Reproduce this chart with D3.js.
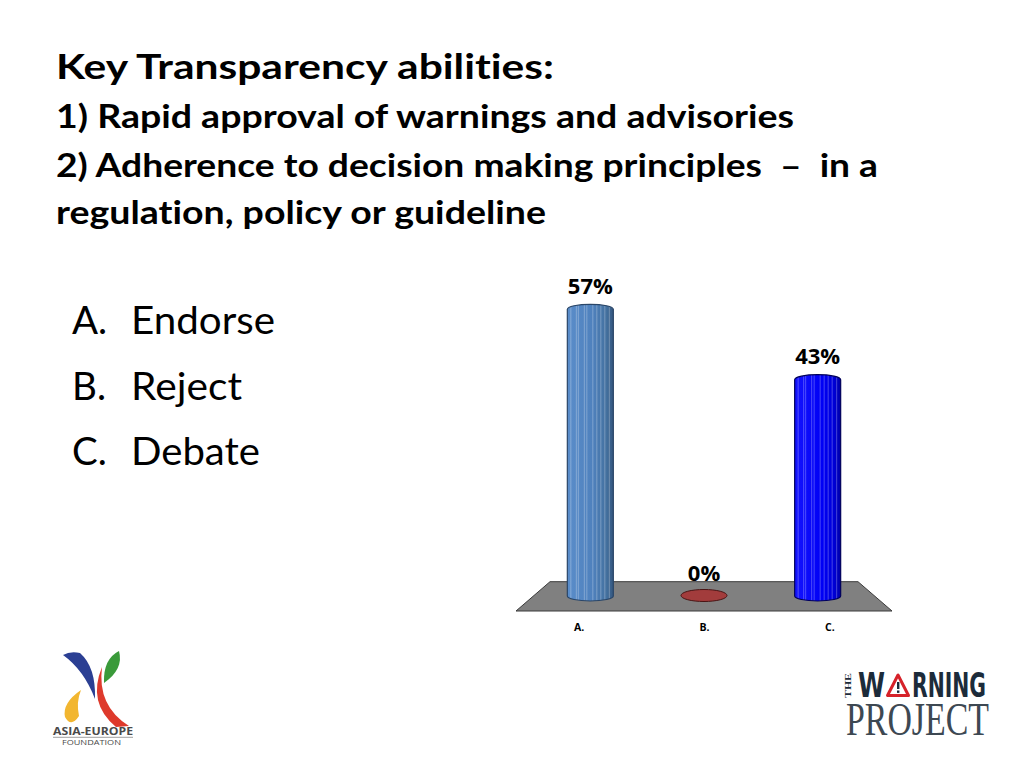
<!DOCTYPE html>
<html>
<head>
<meta charset="utf-8">
<script src="https://cdn.jsdelivr.net/npm/d3@7/dist/d3.min.js"></script>
<style>
  html, body { margin: 0; padding: 0; background: #ffffff; }
  svg { display: block; }
  text { font-variant-ligatures: none; }
</style>
</head>
<body>
<script>
// ---------- data ----------
const titleLines = [
  "Key Transparency abilities:",
  "1) Rapid approval of warnings and advisories",
  "2) Adherence to decision making principles  \u2013  in a",
  "regulation, policy or guideline"
];
const optionLetters = ["A.", "B.", "C."];
const optionTexts = ["Endorse", "Reject", "Debate"];
const categories = ["A.", "B.", "C."];
const values = [57, 0, 43];
const valueLabels = ["57%", "0%", "43%"];

// ---------- layout / style ----------
const W = 1024, H = 768;
const svg = d3.select("body").append("svg").attr("width", W).attr("height", H);
svg.append("rect").attr("width", W).attr("height", H).attr("fill", "#ffffff");

// Title
const titleStyle = [
  { y: 79, size: 33.5, len: 498 },
  { y: 128, size: 32, len: 738 },
  { y: 177, size: 32, len: 822 },
  { y: 224, size: 32, len: 490 }
];
svg.append("g").selectAll("text").data(titleLines).join("text")
  .attr("x", 56)
  .attr("y", (d, i) => titleStyle[i].y)
  .attr("font-family", "Lato, 'Open Sans', sans-serif")
  .attr("font-weight", "bold")
  .attr("font-size", (d, i) => titleStyle[i].size)
  .attr("fill", "#000")
  .style("white-space", "pre")
  .attr("textLength", (d, i) => titleStyle[i].len)
  .attr("lengthAdjust", "spacingAndGlyphs")
  .text(d => d);

// Option list
const listY = [334, 400, 465];
const listLen = [144, 111, 129];
const lg = svg.append("g").attr("font-family", "Lato, 'Open Sans', sans-serif").attr("font-size", 38.5).attr("fill", "#000");
lg.selectAll("text.l").data(optionLetters).join("text").attr("class", "l")
  .attr("x", 72).attr("y", (d, i) => listY[i]).text(d => d);
lg.selectAll("text.t").data(optionTexts).join("text").attr("class", "t")
  .attr("x", 131).attr("y", (d, i) => listY[i])
  .attr("textLength", (d, i) => listLen[i]).attr("lengthAdjust", "spacingAndGlyphs")
  .text(d => d);

// ---------- 3D bar chart ----------
const floorBackY = 581.7, floorFrontY = 611;
const floorBack = [550, 858], floorFront = [516, 892];
const midX = [533.5, 874.5];

const xBar = d3.scalePoint().domain(categories).range(midX).padding(0.5);
const xLab = d3.scalePoint().domain(categories).range(floorFront).padding(0.5);
const y = d3.scaleLinear().domain([0, 100]).range([596, 93]);

const defs = svg.append("defs");
const gradA = defs.append("linearGradient").attr("id", "gA").attr("x1", 0).attr("x2", 1).attr("y1", 0).attr("y2", 0);
[[0, "#5a8dca"], [0.55, "#4f81bd"], [0.85, "#44719f"], [1, "#34567f"]].forEach(s =>
  gradA.append("stop").attr("offset", s[0]).attr("stop-color", s[1]));
const gradC = defs.append("linearGradient").attr("id", "gC").attr("x1", 0).attr("x2", 1).attr("y1", 0).attr("y2", 0);
[[0, "#1414ff"], [0.6, "#0000f5"], [0.85, "#0000d8"], [1, "#0000a8"]].forEach(s =>
  gradC.append("stop").attr("offset", s[0]).attr("stop-color", s[1]));
const fills = { "A.": "url(#gA)", "B.": "#a23c3c", "C.": "url(#gC)" };
const strokes = { "A.": "#2a4668", "B.": "#4a1414", "C.": "#00005a" };

// floor
svg.append("path")
  .attr("d", `M${floorBack[0]},${floorBackY} L${floorBack[1]},${floorBackY} L${floorFront[1]},${floorFrontY} L${floorFront[0]},${floorFrontY} Z`)
  .attr("fill", "#808080").attr("stroke", "#3a3a3a").attr("stroke-width", 1);

const rx = 23, ry = 5;
const bars = categories.map((c, i) => ({ c, v: values[i], lab: valueLabels[i] }));

const barG = svg.append("g");
bars.forEach((b, i) => {
  const cx = xBar(b.c);
  const yb = y(0), yt = y(b.v);
  if (b.v <= 0) {
    barG.append("ellipse").attr("cx", cx).attr("cy", yb - 0.5).attr("rx", rx).attr("ry", 6)
      .attr("fill", fills[b.c]).attr("stroke", strokes[b.c]).attr("stroke-width", 1);
    return;
  }
  const d = `M${cx - rx},${yt} A${rx},${ry} 0 0 1 ${cx + rx},${yt} L${cx + rx},${yb} A${rx},${ry} 0 0 1 ${cx - rx},${yb} Z`;
  const cid = "clip" + i;
  defs.append("clipPath").attr("id", cid).append("path").attr("d", d);
  barG.append("path").attr("d", d).attr("fill", fills[b.c]);
  const sg = barG.append("g").attr("clip-path", `url(#${cid})`);
  [-19.5, -14, -12, -6, -3.5, 2.5, 6.5, 10.5, 14.5, 19].forEach(o => {
    sg.append("line").attr("x1", cx + o).attr("x2", cx + o).attr("y1", yt - ry - 1).attr("y2", yb + ry + 1)
      .attr("stroke", "#ffffff").attr("stroke-opacity", 0.28).attr("stroke-width", 1);
  });
  barG.append("path").attr("d", d).attr("fill", "none").attr("stroke", strokes[b.c]).attr("stroke-width", 1.2);
});

// value labels
svg.append("g").selectAll("text").data(bars).join("text")
  .attr("x", d => xBar(d.c))
  .attr("y", d => y(d.v) - 15.5)
  .attr("text-anchor", "middle")
  .attr("font-family", "'Open Sans', 'DejaVu Sans', sans-serif")
  .attr("font-weight", "bold")
  .attr("font-size", 22)
  .attr("fill", "#000")
  .text(d => d.lab);

// category axis
const ax = svg.append("g").attr("transform", `translate(0,620)`)
  .call(d3.axisBottom(xLab).tickSize(0).tickPadding(3.5));
ax.select(".domain").remove();
ax.selectAll("text").attr("font-family", "'Open Sans', 'DejaVu Sans', sans-serif")
  .attr("font-weight", "bold").attr("font-size", 10.5).attr("fill", "#000");

// ---------- Asia-Europe Foundation logo ----------
const lg1 = svg.append("g");
lg1.append("path").attr("d", "M63,655 Q70,651 80,653 Q96,667 95,699 Q84,670 63,655 Z").attr("fill", "#2b3f93");
lg1.append("path").attr("d", "M104,683 Q103,659 119,651 Q124,669 104,683 Z").attr("fill", "#3a9a3a");
lg1.append("path").attr("d", "M81,690 Q62,703 65,717 Q71,728 79,716 Q76,702 81,690 Z").attr("fill", "#f2b630");
lg1.append("path").attr("d", "M102,667 Q97,706 129,726 L116,727 Q87,703 102,667 Z").attr("fill", "#de3a2c");
lg1.append("text").attr("x", 53).attr("y", 735).attr("font-family", "'Open Sans', sans-serif").attr("font-weight", "bold")
  .attr("font-size", 11).attr("fill", "#4a4a4a").attr("textLength", 80).attr("lengthAdjust", "spacingAndGlyphs").text("ASIA-EUROPE");
lg1.append("line").attr("x1", 53).attr("x2", 133).attr("y1", 737.3).attr("y2", 737.3).attr("stroke", "#888").attr("stroke-width", 0.8);
lg1.append("text").attr("x", 62).attr("y", 745).attr("font-family", "'Open Sans', sans-serif")
  .attr("font-size", 7.5).attr("fill", "#4a4a4a").attr("textLength", 59).attr("lengthAdjust", "spacingAndGlyphs").text("FOUNDATION");

// ---------- The Warning Project logo ----------
const lg2 = svg.append("g");
lg2.append("text").attr("transform", "translate(851,698) rotate(-90)")
  .attr("font-family", "'Liberation Serif', serif").attr("font-weight", "bold").attr("font-size", 7.5)
  .attr("fill", "#1c2b3a").attr("textLength", 25).attr("lengthAdjust", "spacingAndGlyphs").text("THE");
lg2.append("text").attr("x", 858).attr("y", 697).attr("font-family", "'DejaVu Sans Condensed', 'DejaVu Sans', sans-serif")
  .attr("font-weight", "bold").attr("font-size", 34).attr("fill", "#1c2b3a")
  .attr("textLength", 27).attr("lengthAdjust", "spacingAndGlyphs").text("W");
lg2.append("path").attr("d", "M898,675 L887.5,695.5 L908.5,695.5 Z").attr("fill", "#fff").attr("stroke", "#d6222a").attr("stroke-width", 3).attr("stroke-linejoin", "round");
lg2.append("rect").attr("x", 897).attr("y", 682).attr("width", 2.4).attr("height", 7).attr("fill", "#1c2b3a");
lg2.append("rect").attr("x", 897).attr("y", 690.5).attr("width", 2.4).attr("height", 2.4).attr("fill", "#1c2b3a");
lg2.append("text").attr("x", 912).attr("y", 697).attr("font-family", "'DejaVu Sans Condensed', 'DejaVu Sans', sans-serif")
  .attr("font-weight", "bold").attr("font-size", 34).attr("fill", "#1c2b3a")
  .attr("textLength", 74).attr("lengthAdjust", "spacingAndGlyphs").text("RNING");
lg2.append("text").attr("x", 846).attr("y", 735).attr("font-family", "'Liberation Serif', 'DejaVu Serif', serif")
  .attr("font-size", 46).attr("fill", "#3d4852")
  .attr("textLength", 143).attr("lengthAdjust", "spacingAndGlyphs").text("PROJECT");
</script>
</body>
</html>
